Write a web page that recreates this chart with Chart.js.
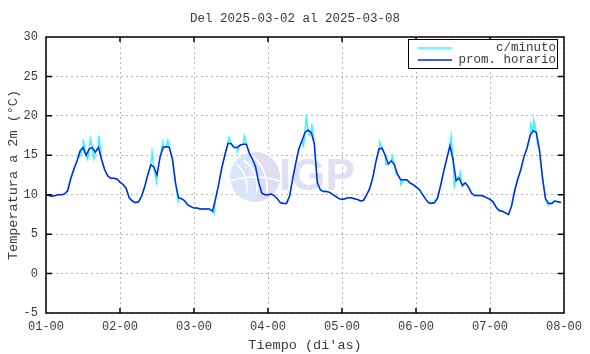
<!DOCTYPE html>
<html>
<head>
<meta charset="utf-8">
<script src="https://cdn.jsdelivr.net/npm/chart.js@4/dist/chart.umd.min.js"></script>
<style>
  html, body { margin: 0; padding: 0; background: #fff; }
  #wrap { width: 590px; height: 354px; }
</style>
</head>
<body>
<div id="wrap"><canvas id="tempChart"></canvas></div>
<script>
// --- Data ---
const titulo = 'Del 2025-03-02 al 2025-03-08';
const tickLabels = ['01-00', '02-00', '03-00', '04-00', '05-00', '06-00', '07-00', '08-00'];
const yTicks = [-5, 0, 5, 10, 15, 20, 25, 30];

// hourly average, one value per hour (168 h)
const promHorario = [
    10.0, 9.9, 9.8, 9.9, 10.0, 10.0, 10.1, 10.5, 12.0, 13.2, 14.2, 15.5,
    16.0, 15.0, 15.8, 16.0, 15.4, 16.0, 14.5, 13.2, 12.4, 12.1, 12.1, 12.0,
    11.6, 11.3, 10.8, 9.6, 9.2, 9.0, 9.1, 9.8, 11.0, 12.5, 13.8, 13.5,
    12.5, 14.8, 16.0, 16.1, 16.0, 14.5, 11.5, 9.6, 9.5, 9.2, 8.7, 8.5,
    8.3, 8.3, 8.2, 8.2, 8.2, 8.2, 7.9, 9.5, 11.3, 13.4, 15.0, 16.5,
    16.5, 16.0, 16.0, 16.3, 16.4, 16.4, 15.2, 14.5, 13.5, 11.5, 10.2, 10.0,
    10.0, 10.1, 9.9, 9.5, 9.0, 8.9, 8.9, 9.8, 12.0, 14.0, 15.8, 16.8,
    17.9, 18.2, 17.9, 16.5, 11.5, 10.6, 10.4, 10.4, 10.3, 10.0, 9.8, 9.5,
    9.4, 9.5, 9.6, 9.6, 9.5, 9.4, 9.2, 9.3, 10.0, 10.8, 12.2, 14.2,
    15.8, 15.9, 15.0, 13.9, 14.3, 13.8, 12.6, 11.9, 11.9, 11.9, 11.5, 11.3,
    11.0, 10.7, 10.1, 9.5, 9.0, 8.9, 9.0, 9.6, 11.2, 13.0, 14.6, 16.2,
    14.5, 11.8, 12.1, 11.2, 11.5, 11.0, 10.2, 9.9, 9.9, 9.9, 9.8, 9.6,
    9.4, 9.1, 8.4, 8.0, 7.9, 7.7, 7.5, 8.6, 10.5, 12.0, 13.2, 14.8,
    15.9, 17.5, 18.1, 17.9, 15.8, 12.2, 9.5, 8.9, 8.9, 9.2, 9.1, 9.0
];

// per-minute readings where they stick out from the hourly line
const spikeHours = [8.8, 11.0, 12.1, 13.5, 14.4, 15.5, 17.2, 34.4, 35.8, 37.9, 39.5, 42.8,
    54.5, 59.3, 62.0, 64.3, 83.5, 84.4, 85.4, 86.2, 108.2, 110.2, 112.3, 113.5, 115.0,
    131.4, 132.4, 133.5, 134.3, 135.0, 157.3, 158.2, 159.4, 162.8];
const spikeValues = [13.0, 15.0, 17.0, 14.5, 17.0, 14.6, 17.5, 15.4, 11.7, 16.6, 16.9, 9.15,
    7.6, 17.2, 15.5, 17.4, 16.2, 19.7, 17.5, 19.0, 16.7, 13.8, 14.9, 12.7, 11.3,
    17.4, 11.05, 12.3, 12.8, 11.05, 19.0, 19.4, 16.3, 8.7];

// --- Build points ---
const horarioPts = promHorario.map((v, i) => ({ x: i, y: v }));
const minutoPts = horarioPts
    .concat(spikeHours.map((h, i) => ({ x: h, y: spikeValues[i] })))
    .sort((a, b) => a.x - b.x);

const FONT = "'Liberation Mono', 'DejaVu Sans Mono', monospace";
const TXT = '#3a3a3a';

// frame, inward ticks, legend and watermark
const decor = {
    id: 'decor',
    beforeDatasetsDraw(chart) {
        const { ctx, chartArea: a } = chart;
        const cx = (a.left + a.right) / 2 - 50;
        const cy = (a.top + a.bottom) / 2 + 2;
        ctx.save();
        ctx.fillStyle = '#d9e6fa';
        ctx.beginPath();
        ctx.arc(cx, cy, 25, 0, Math.PI * 2);
        ctx.fill();
        ctx.fillStyle = '#dedef3';
        ctx.beginPath();
        ctx.arc(cx, cy, 25, -Math.PI / 2, Math.PI / 2);
        ctx.fill();
        ctx.strokeStyle = '#fff';
        ctx.lineWidth = 1.5;
        [[-8, 30], [2, 34], [12, 40]].forEach(([dx, r]) => {
            ctx.beginPath();
            ctx.arc(cx + dx - r, cy + 10, r, -0.9, 0.2);
            ctx.stroke();
        });
        ctx.beginPath();
        ctx.moveTo(cx - 25, cy + 4);
        ctx.quadraticCurveTo(cx, cy - 4, cx + 25, cy + 4);
        ctx.stroke();
        ctx.fillStyle = '#e0e0f4';
        ctx.font = "bold 44px 'Liberation Sans', Arial, sans-serif";
        ctx.textBaseline = 'middle';
        ctx.fillText('IGP', cx + 24, cy + 1);
        ctx.restore();
    },
    afterDraw(chart) {
        const { ctx, chartArea: a, scales } = chart;
        ctx.save();
        ctx.strokeStyle = '#000';
        ctx.lineWidth = 1.5;
        ctx.strokeRect(a.left, a.top, a.right - a.left, a.bottom - a.top);

        ctx.beginPath();
        for (let i = 1; i < tickLabels.length - 1; i++) {
            const px = scales.x.getPixelForValue(i * 24);
            ctx.moveTo(px, a.bottom); ctx.lineTo(px, a.bottom - 5);
            ctx.moveTo(px, a.top); ctx.lineTo(px, a.top + 5);
        }
        yTicks.slice(1, -1).forEach(v => {
            const py = scales.y.getPixelForValue(v);
            ctx.moveTo(a.left, py); ctx.lineTo(a.left + 6, py);
            ctx.moveTo(a.right, py); ctx.lineTo(a.right - 6, py);
        });
        ctx.stroke();

        // legend
        const bx = a.right - 156, by = a.top + 2, bw = 149, bh = 29;
        ctx.fillStyle = '#fff';
        ctx.fillRect(bx, by, bw, bh);
        ctx.lineWidth = 1;
        ctx.strokeRect(bx + 0.5, by + 0.5, bw, bh);
        ctx.font = '12.5px ' + FONT;
        ctx.textAlign = 'right';
        ctx.textBaseline = 'middle';
        chart.data.datasets.forEach((ds, i) => {
            const ly = by + 9 + i * 12;
            ctx.strokeStyle = ds.borderColor;
            ctx.lineWidth = ds.borderWidth;
            ctx.beginPath();
            ctx.moveTo(bx + 10, ly); ctx.lineTo(bx + 44, ly);
            ctx.stroke();
            ctx.fillStyle = TXT;
            ctx.fillText(ds.label, bx + bw - 1, ly);
        });
        ctx.restore();
    }
};

new Chart(document.getElementById('tempChart'), {
    type: 'line',
    data: {
        datasets: [{
            label: 'c/minuto',
            data: minutoPts,
            borderColor: '#30f8ff',
            borderWidth: 1.5,
            pointRadius: 0,
            tension: 0,
            order: 2
        }, {
            label: 'prom. horario',
            data: horarioPts,
            borderColor: '#0a24ee',
            borderWidth: 1.5,
            pointRadius: 0,
            tension: 0,
            order: 1
        }]
    },
    options: {
        responsive: true,
        maintainAspectRatio: false,
        animation: false,
        layout: { padding: 0 },
        plugins: {
            legend: { display: false },
            tooltip: { enabled: false },
            title: {
                display: true,
                text: titulo,
                color: TXT,
                font: { family: FONT, size: 12.5, weight: 'normal' },
                padding: { top: 11, bottom: 11 }
            }
        },
        scales: {
            x: {
                type: 'linear',
                min: 0,
                max: 168,
                afterFit: s => { s.height = 41; },
                afterBuildTicks: s => { s.ticks = tickLabels.map((_, i) => ({ value: i * 24 })); },
                ticks: {
                    color: TXT,
                    font: { family: FONT, size: 12 },
                    padding: 7,
                    maxRotation: 0,
                    autoSkip: false,
                    callback: v => tickLabels[Math.round(v / 24)]
                },
                grid: { color: '#b8b8b8', drawTicks: false, lineWidth: 1 },
                border: { display: false, dash: [2, 3] },
                title: {
                    display: true,
                    text: "Tiempo (di'as)",
                    color: TXT,
                    font: { family: FONT, size: 13.5 },
                    padding: { top: 0, bottom: 0 }
                }
            },
            y: {
                min: -5,
                max: 30,
                afterFit: s => { s.width = 46; },
                afterBuildTicks: s => { s.ticks = yTicks.map(v => ({ value: v })); },
                ticks: {
                    color: TXT,
                    font: { family: FONT, size: 12 },
                    padding: 8
                },
                grid: { color: '#b8b8b8', drawTicks: false, lineWidth: 1 },
                border: { display: false, dash: [2, 3] },
                title: {
                    display: true,
                    text: 'Temperatura a 2m (°C)',
                    color: TXT,
                    font: { family: FONT, size: 13.5 },
                    padding: { top: 5, bottom: 0 }
                }
            },
            // empty right-hand strip so the title centres on the whole canvas
            yRight: {
                position: 'right',
                min: -5,
                max: 30,
                afterFit: s => { s.width = 26; },
                ticks: { display: false },
                grid: { display: false, drawTicks: false },
                border: { display: false }
            }
        }
    },
    plugins: [decor]
});
</script>
</body>
</html>
